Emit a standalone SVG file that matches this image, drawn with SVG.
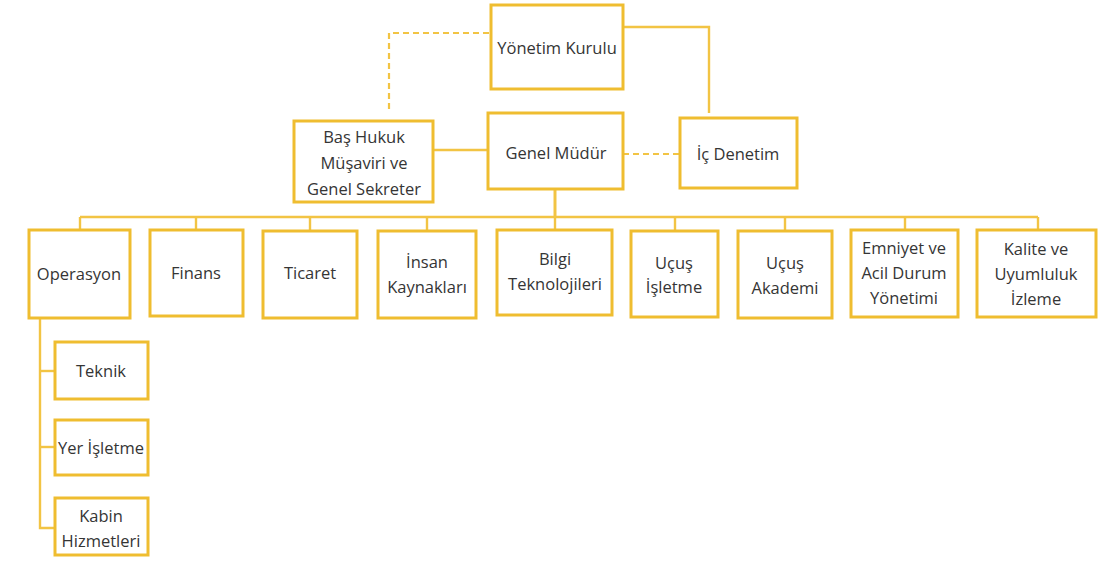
<svg xmlns="http://www.w3.org/2000/svg" width="1098" height="563" viewBox="0 0 1098 563">
<style>
.box{fill:#ffffff;stroke:#EFBD30;stroke-width:3}
.ln{fill:none;stroke:#F2C444;stroke-width:2.4}
.dash{fill:none;stroke:#F2C444;stroke-width:2.2;stroke-dasharray:6 4}
text{font-family:"Open Sans","Noto Sans",sans-serif;font-size:16.5px;fill:#353535;text-anchor:middle;dominant-baseline:central}
</style>
<rect width="1098" height="563" fill="#ffffff"/>
<g id="connectors">
<polyline class="dash" points="489,33 389,33 389,111"/>
<polyline class="ln" points="614,27 709,27 709,113"/>
<line class="ln" x1="433" y1="150" x2="488" y2="150"/>
<line class="dash" x1="623" y1="154" x2="680" y2="154"/>
<line class="ln" x1="555" y1="189" x2="555" y2="217" style="stroke-width:3"/>
<line class="ln" x1="80" y1="217" x2="1038" y2="217"/>
<line class="ln" x1="80" y1="217" x2="80" y2="230"/>
<line class="ln" x1="196" y1="217" x2="196" y2="230"/>
<line class="ln" x1="310" y1="217" x2="310" y2="231"/>
<line class="ln" x1="427" y1="217" x2="427" y2="231"/>
<line class="ln" x1="555" y1="217" x2="555" y2="230"/>
<line class="ln" x1="675" y1="217" x2="675" y2="231"/>
<line class="ln" x1="785" y1="217" x2="785" y2="231"/>
<line class="ln" x1="905" y1="217" x2="905" y2="230"/>
<line class="ln" x1="1038" y1="217" x2="1038" y2="230"/>
<polyline class="ln" points="40,318 40,528 55,528"/>
<line class="ln" x1="40" y1="371" x2="55" y2="371"/>
<line class="ln" x1="40" y1="447" x2="55" y2="447"/>
</g>
<g id="yonetim-kurulu"><rect class="box" x="491" y="5" width="132" height="84"/><text x="557" y="47">Yönetim Kurulu</text></g>
<g id="bas-hukuk"><rect class="box" x="294" y="121" width="139" height="81"/><text x="364" y="136">Baş Hukuk</text><text x="364" y="162">Müşaviri ve</text><text x="364" y="188">Genel Sekreter</text></g>
<g id="genel-mudur"><rect class="box" x="488" y="113" width="135" height="76"/><text x="556" y="152">Genel Müdür</text></g>
<g id="ic-denetim"><rect class="box" x="680" y="118" width="117" height="70"/><text x="738" y="153">İç Denetim</text></g>
<g id="operasyon"><rect class="box" x="29" y="230" width="101" height="88"/><text x="79" y="273">Operasyon</text></g>
<g id="finans"><rect class="box" x="150" y="230" width="93" height="86"/><text x="196" y="272">Finans</text></g>
<g id="ticaret"><rect class="box" x="263" y="231" width="94" height="87"/><text x="310" y="272">Ticaret</text></g>
<g id="insan-kaynaklari"><rect class="box" x="378" y="231" width="98" height="87"/><text x="427" y="261">İnsan</text><text x="427" y="286">Kaynakları</text></g>
<g id="bilgi-teknolojileri"><rect class="box" x="497" y="230" width="115" height="85"/><text x="555" y="258">Bilgi</text><text x="555" y="283">Teknolojileri</text></g>
<g id="ucus-isletme"><rect class="box" x="631" y="231" width="87" height="86"/><text x="674" y="262">Uçuş</text><text x="674" y="286">İşletme</text></g>
<g id="ucus-akademi"><rect class="box" x="738" y="231" width="94" height="87"/><text x="785" y="262">Uçuş</text><text x="785" y="287">Akademi</text></g>
<g id="emniyet"><rect class="box" x="851" y="230" width="107" height="87"/><text x="904" y="247">Emniyet ve</text><text x="904" y="272">Acil Durum</text><text x="904" y="297">Yönetimi</text></g>
<g id="kalite"><rect class="box" x="977" y="230" width="119" height="87"/><text x="1036" y="248">Kalite ve</text><text x="1036" y="273">Uyumluluk</text><text x="1036" y="298">İzleme</text></g>
<g id="teknik"><rect class="box" x="55" y="342" width="93" height="57"/><text x="101" y="370">Teknik</text></g>
<g id="yer-isletme"><rect class="box" x="55" y="420" width="93" height="55"/><text x="101" y="447">Yer İşletme</text></g>
<g id="kabin"><rect class="box" x="55" y="498" width="93" height="57"/><text x="101" y="515">Kabin</text><text x="101" y="540">Hizmetleri</text></g>
</svg>
